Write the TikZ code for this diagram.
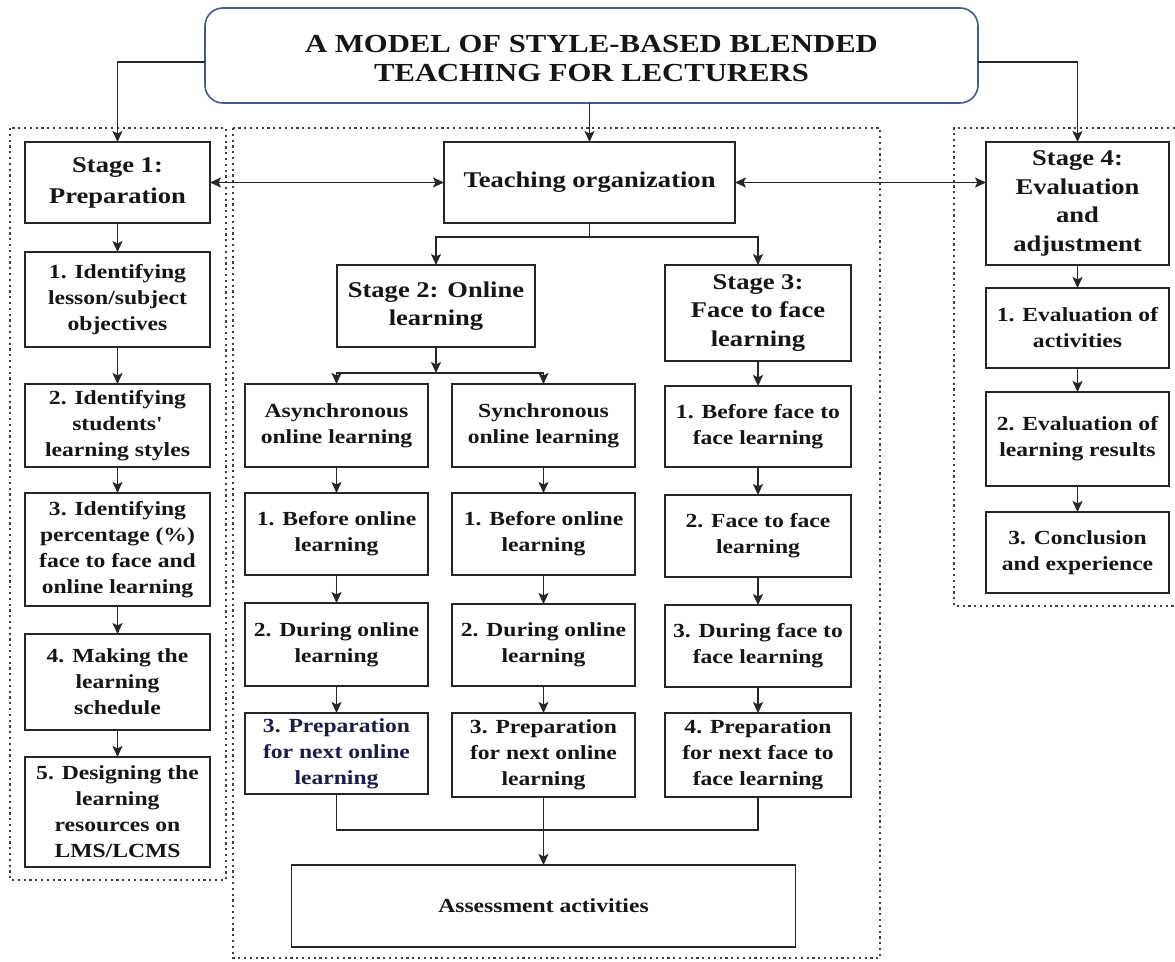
\documentclass[tikz,border=0pt]{standalone}
\usepackage{fontspec}
\setmainfont{Liberation Serif}[FakeStretch=1.18, Ligatures=TeXOff]
\usetikzlibrary{arrows.meta}
\definecolor{boxline}{HTML}{262626}
\definecolor{txt}{HTML}{161616}
\definecolor{navytxt}{HTML}{1C1C48}
\definecolor{titleline}{HTML}{3F5F88}
\definecolor{dotline}{HTML}{404040}
\begin{document}
\begin{tikzpicture}[x=1pt,y=-1pt,
  box/.style={draw=boxline, line width=1.9pt, align=center, inner sep=2pt, outer sep=0pt,
    font=\bfseries\fontsize{20}{26}\selectfont, text=txt},
  head/.style={box, font=\bfseries\fontsize{22.5}{28.5}\selectfont},
  colA/.style={minimum width=185pt},
  colB/.style={minimum width=183pt},
  titlebox/.style={draw=titleline, line width=1.6pt, rounded corners=18pt, align=center,
    outer sep=0pt, font=\bfseries\fontsize{26}{29}\selectfont, text=txt},
  tip/.tip={Stealth[length=11pt,width=10pt,inset=2.5pt]},
  arr/.style={-tip, line width=1.8pt, draw=boxline},
  darr/.style={tip-tip, line width=1.8pt, draw=boxline},
  conn/.style={line width=1.8pt, draw=boxline},
  dotbox/.style={draw=dotline, line width=2pt, dash pattern=on 2.2pt off 3.6pt}
]
\useasboundingbox[fill=white] (0,0) rectangle (1175,961);

% dotted group frames
\draw[dotbox] (10,128) rectangle (226,880);
\draw[dotbox] (233,128) rectangle (880,958);
\draw[dotbox] (1175,128) -- (954,128) -- (954,606) -- (1175,606);

% title
\node[titlebox, minimum width=773pt, minimum height=95pt] (title) at (591.5,55.5)
  {\rule{0pt}{24pt}A MODEL OF STYLE-BASED BLENDED\\TEACHING FOR LECTURERS};

% stage 1 column
\node[head, colA, minimum height=81pt, font=\bfseries\fontsize{22.5}{31}\selectfont] (s1) at (117.5,182.5) {Stage 1:\\Preparation};
\node[box, colA, minimum height=95pt] (l1) at (117.5,299.5) {1. Identifying\\lesson/subject\\objectives};
\node[box, colA, minimum height=83pt] (l2) at (117.5,425.5) {2. Identifying\\students'\\learning styles};
\node[box, colA, minimum height=113pt] (l3) at (117.5,549.5) {3. Identifying\\percentage (\%)\\face to face and\\online learning};
\node[box, colA, minimum height=96pt] (l4) at (117.5,682) {4. Making the\\learning\\schedule};
\node[box, colA, minimum height=110pt] (l5) at (117.5,812) {5. Designing the\\learning\\resources on\\LMS/LCMS};

% teaching organization
\node[head, minimum width=291pt, minimum height=81pt] (org) at (589.5,182.5) {Teaching organization};
\node[head, minimum width=198pt, minimum height=82pt] (s2) at (436,306) {Stage 2: Online\\learning};
\node[head, minimum width=186pt, minimum height=96pt] (s3) at (758,313) {Stage 3:\\Face to face\\learning};

% online columns
\node[box, colB, minimum height=83pt] (asy) at (336.5,425.5) {Asynchronous\\online learning};
\node[box, colB, minimum height=83pt] (syn) at (543.5,425.5) {Synchronous\\online learning};
\node[box, colB, minimum height=82pt] (a1) at (336.5,534) {1. Before online\\learning};
\node[box, colB, minimum height=82pt] (y1) at (543.5,534) {1. Before online\\learning};
\node[box, colB, minimum height=83pt] (a2) at (336.5,644.5) {2. During online\\learning};
\node[box, colB, minimum height=82pt] (y2) at (543.5,645) {2. During online\\learning};
\node[box, colB, minimum height=81pt, text=navytxt] (a3) at (336.5,753.5) {3. Preparation\\for next online\\learning};
\node[box, colB, minimum height=84pt] (y3) at (543.5,755) {3. Preparation\\for next online\\learning};

% face to face column
\node[box, minimum width=186pt, minimum height=81pt] (f1) at (758,426.5) {1. Before face to\\face learning};
\node[box, minimum width=186pt, minimum height=82pt] (f2) at (758,536) {2. Face to face\\learning};
\node[box, minimum width=186pt, minimum height=82pt] (f3) at (758,646) {3. During face to\\face learning};
\node[box, minimum width=186pt, minimum height=84pt] (f4) at (758,755) {4. Preparation\\for next face to\\face learning};

% assessment
\node[box, minimum width=504pt, minimum height=82pt] (asm) at (543.5,906) {Assessment activities};

% stage 4 column
\node[head, colB, minimum height=123pt] (s4) at (1077.5,203.5) {Stage 4:\\Evaluation\\and\\adjustment};
\node[box, colB, minimum height=80pt] (e1) at (1077.5,328) {1. Evaluation of\\activities};
\node[box, colB, minimum height=94pt] (e2) at (1077.5,439) {2. Evaluation of\\learning results};
\node[box, colB, minimum height=81pt] (e3) at (1077.5,552.5) {3. Conclusion\\and experience};

% junction points
\coordinate (j1) at (589.5,237);
\coordinate (j2) at (436,373);
\coordinate (jb) at (543.5,830);

% title connectors
\draw[arr] ([yshift=-6.5pt]title.west) -| (s1.north);
\draw[arr] ([yshift=-6.5pt]title.east) -| (s4.north);
\draw[arr] (org.north |- title.south) -- (org.north);

% horizontal double arrows
\draw[darr] (s1.east) -- (org.west);
\draw[darr] (org.east) -- (org.east -| s4.west);

% stage 1 chain
\draw[arr] (s1.south) -- (l1.north);
\draw[arr] (l1.south) -- (l2.north);
\draw[arr] (l2.south) -- (l3.north);
\draw[arr] (l3.south) -- (l4.north);
\draw[arr] (l4.south) -- (l5.north);

% organization split
\draw[conn] (org.south) -- (j1);
\draw[arr] (j1) -| (s2.north);
\draw[arr] (j1) -| (s3.north);

% stage 2 split
\draw[arr] (s2.south) -- (j2);
\draw[arr] (j2) -| (asy.north);
\draw[arr] (j2) -| (syn.north);

% online chains
\draw[arr] (asy.south) -- (a1.north);
\draw[arr] (a1.south) -- (a2.north);
\draw[arr] (a2.south) -- (a3.north);
\draw[arr] (syn.south) -- (y1.north);
\draw[arr] (y1.south) -- (y2.north);
\draw[arr] (y2.south) -- (y3.north);

% face to face chain
\draw[arr] (s3.south) -- (f1.north);
\draw[arr] (f1.south) -- (f2.north);
\draw[arr] (f2.south) -- (f3.north);
\draw[arr] (f3.south) -- (f4.north);

% to assessment
\draw[conn] (a3.south) |- (jb) -| (f4.south);
\draw[arr] (y3.south) -- (asm.north);

% stage 4 chain
\draw[arr] (s4.south) -- (e1.north);
\draw[arr] (e1.south) -- (e2.north);
\draw[arr] (e2.south) -- (e3.north);
\end{tikzpicture}
\end{document}
